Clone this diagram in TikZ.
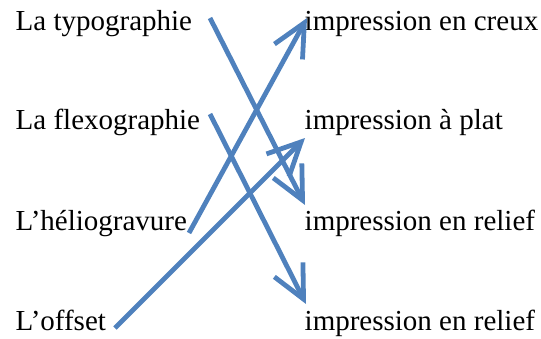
\documentclass[tikz,border=0pt]{standalone}
\usepackage{fontspec}
\setmainfont{Liberation Serif}
\usetikzlibrary{arrows.meta}
\definecolor{arrowblue}{HTML}{4F81BD}
\begin{document}
\begin{tikzpicture}[x=1pt,y=1pt,
  lbl/.style={anchor=base west,inner sep=0pt,font=\fontsize{29}{34}\selectfont},
  arr/.style={draw=arrowblue,line width=4.8pt,
    -{Straight Barb[length=33pt,width=32pt,line width=4.8pt]}}]
\useasboundingbox (0,0) rectangle (541,338);
\node[lbl] (typo) at (15.5,307.3) {La typographie};
\node[lbl] (flexo) at (15.5,208.7) {La flexographie};
\node[lbl] (helio) at (15.5,108) {L’héliogravure};
\node[lbl] (offset) at (15.5,8) {L’offset};
\node[lbl] (creux) at (304.5,307.3) {impression en creux};
\node[lbl] (plat) at (304.5,208.7) {impression à plat};
\node[lbl] (relief) at (304.5,108) {impression en relief};
\node[lbl] (reliefb) at (304.5,8) {impression en relief};

\coordinate (typoEnd) at (210,320);
\coordinate (flexoEnd) at (210,224);
\coordinate (helioEnd) at (189,105);
\coordinate (offsetEnd) at (115,10);
\coordinate (creuxTip) at (307,320);
\coordinate (platTip) at (305,200);
\coordinate (reliefTip) at (305,133);
\coordinate (reliefbTip) at (306,34);

\draw[arr] (typoEnd) -- (reliefTip);
\draw[arr] (flexoEnd) -- (reliefbTip);
\draw[arr] (helioEnd) -- (creuxTip);
\draw[arr] (offsetEnd) -- (platTip);
\end{tikzpicture}
\end{document}
